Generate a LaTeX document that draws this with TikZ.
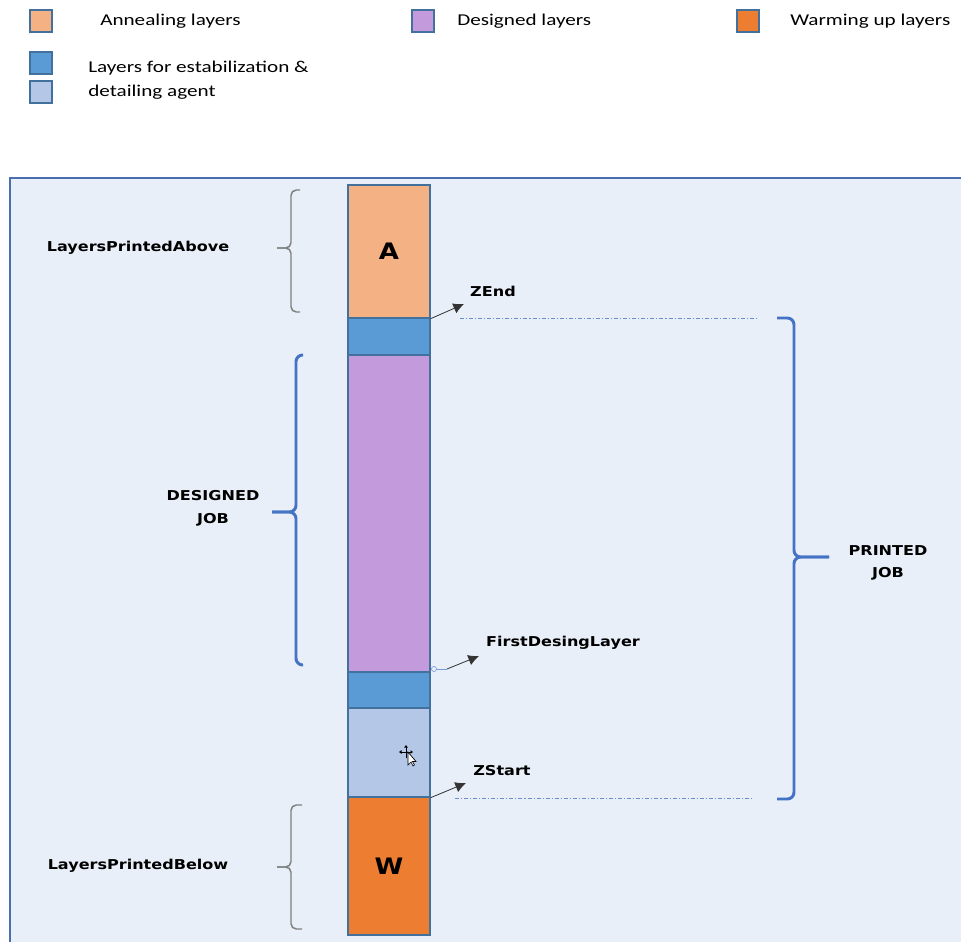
\documentclass[tikz,border=0pt]{standalone}
\usepackage{fontspec}
\setmainfont{Carlito}
\newfontfamily\lblfont{DejaVu Sans}
\usetikzlibrary{arrows.meta}
\definecolor{bgblue}{HTML}{E9EFF8}
\definecolor{panelline}{HTML}{4A6FAE}
\definecolor{boxline}{HTML}{41719C}
\definecolor{anneal}{HTML}{F4B183}
\definecolor{stab}{HTML}{5B9BD5}
\definecolor{design}{HTML}{C39BDC}
\definecolor{detail}{HTML}{B4C7E7}
\definecolor{warm}{HTML}{ED7D31}
\definecolor{braceblue}{HTML}{4472C4}
\definecolor{bracegray}{HTML}{7F7F7F}
\newcommand{\legtxt}[1]{\scalebox{1.28}[1]{\fontsize{12.4pt}{14pt}\selectfont #1}}
\newcommand{\lbltxt}[1]{\scalebox{1.18}[1]{\lblfont\bfseries\fontsize{10.2pt}{13pt}\selectfont #1}}
\newcommand{\boxletter}[1]{\scalebox{1.15}[1]{\lblfont\bfseries\fontsize{17pt}{19pt}\selectfont #1}}
\tikzset{
  layer/.style={draw=boxline, line width=1pt, inner sep=0pt, minimum width=61.5pt},
  legbox/.style={draw=boxline, line width=1pt, minimum width=16.5pt, minimum height=16.5pt, inner sep=0pt},
  legtext/.style={anchor=west, inner sep=0pt},
  lbl/.style={inner sep=0pt, align=center},
  gbrace/.style={draw=bracegray, line width=1.1pt, rounded corners=4pt},
  bbrace/.style={draw=braceblue, line width=2.2pt, rounded corners=5pt},
  ptr/.style={draw=black!80, line width=0.6pt, -{Latex[length=8pt,width=8pt]}},
  guide/.style={draw=braceblue!80, line width=0.6pt, dash pattern=on 3pt off 1.5pt on 0.8pt off 1.5pt}
}
\begin{document}
\begin{tikzpicture}[x=0.75pt,y=-0.75pt]
\useasboundingbox (0,0) rectangle (961,942);
\clip (0,0) rectangle (961,942);
\fill[white] (0,0) rectangle (961,942);
% panel
\draw[panelline, line width=1pt, fill=bgblue] (10,178) rectangle (975,955);

% legend
\node[legbox, fill=anneal] (lgA) at (41,21) {};
\node[legtext] (lgAt) at (100,21) {\legtxt{Annealing layers}};
\node[legbox, fill=design] (lgD) at (423,21) {};
\node[legtext] (lgDt) at (457,21) {\legtxt{Designed layers}};
\node[legbox, fill=warm] (lgW) at (748,21) {};
\node[legtext] (lgWt) at (790,21) {\legtxt{Warming up layers}};
\node[legbox, fill=stab] (lgS) at (41,63) {};
\node[legbox, fill=detail] (lgL) at (41,92) {};
\node[legtext] (lgSt) at (88,68) {\legtxt{Layers for estabilization \&}};
\node[legtext] (lgLt) at (88,92) {\legtxt{detailing agent}};

% column
\node[layer, fill=anneal, minimum height=99.75pt] (A) at (389,251.5) {\boxletter{A}};
\node[layer, fill=stab, minimum height=27.75pt] (S1) at (389,336.5) {};
\node[layer, fill=design, minimum height=237.75pt] (D) at (389,513.5) {};
\node[layer, fill=stab, minimum height=27pt] (S2) at (389,690) {};
\node[layer, fill=detail, minimum height=66.75pt] (L) at (389,752.5) {};
\node[layer, fill=warm, minimum height=103.5pt] (W) at (389,866) {\boxletter{W}};

% cursor artifact
\begin{scope}[shift={(406,752)}]
  \draw[black, line width=0.6pt] (-6,0) -- (6,0) (0,-6) -- (0,6);
  \fill[black] (-7,0) -- (-4.5,-1.8) -- (-4.5,1.8) -- cycle;
  \fill[black] (7,0) -- (4.5,-1.8) -- (4.5,1.8) -- cycle;
  \fill[black] (0,-7) -- (-1.8,-4.5) -- (1.8,-4.5) -- cycle;
  \draw[black, fill=white, line width=0.5pt] (2,0) -- (2,13) -- (5,10) -- (7,14) -- (8.5,13) -- (6.5,9.5) -- (10,9.5) -- cycle;
\end{scope}

% braces left
\node[lbl] (above) at (138,248) {\lbltxt{LayersPrintedAbove}};
\draw[gbrace] (300,190) -- (291,190) -- (291,248) -- (277,248);
\draw[gbrace] (277,248) -- (291,248) -- (291,312) -- (300,312);

\node[lbl] (below) at (138,866) {\lbltxt{LayersPrintedBelow}};
\draw[gbrace] (302,805) -- (291,805) -- (291,867) -- (277,867);
\draw[gbrace] (277,867) -- (291,867) -- (291,929) -- (302,929);

\node[lbl] (designed) at (213,508) {\lbltxt{DESIGNED}\\[5pt]\lbltxt{JOB}};
\draw[bbrace] (303,355) -- (296,355) -- (296,512) -- (272,512);
\draw[bbrace] (272,512) -- (296,512) -- (296,665) -- (303,665);

% right brace
\node[lbl] (printed) at (888,563) {\lbltxt{PRINTED}\\[5pt]\lbltxt{JOB}};
\draw[bbrace] (777,318) -- (794,318) -- (794,557) -- (829,557);
\draw[bbrace] (829,557) -- (794,557) -- (794,799) -- (777,799);

% guides
\coordinate (zeL) at (460,318);
\coordinate (zeR) at (757,318);
\draw[guide] (zeL) -- (zeR);
\coordinate (zsL) at (455,798);
\coordinate (zsR) at (752,798);
\draw[guide] (zsL) -- (zsR);

% pointers
\node[lbl] (zend) at (493,291) {\lbltxt{ZEnd}};
\coordinate (zendTip) at (464,304);
\draw[ptr] (A.south east) -- (zendTip);

\node[lbl] (fdl) at (563,643) {\lbltxt{FirstDesingLayer}};
\coordinate (fdlC) at (434,669);
\coordinate (fdlM) at (447,669);
\coordinate (fdlTip) at (479,656);
\draw[braceblue!70, line width=0.5pt] (fdlC) circle (2.5);
\draw[braceblue!70, line width=0.5pt] (436.5,669) -- (fdlM);
\draw[ptr] (fdlM) -- (fdlTip);

\node[lbl] (zstart) at (502,771) {\lbltxt{ZStart}};
\coordinate (zsTip) at (466,783);
\draw[ptr] (L.south east) -- (zsTip);
\end{tikzpicture}
\end{document}
